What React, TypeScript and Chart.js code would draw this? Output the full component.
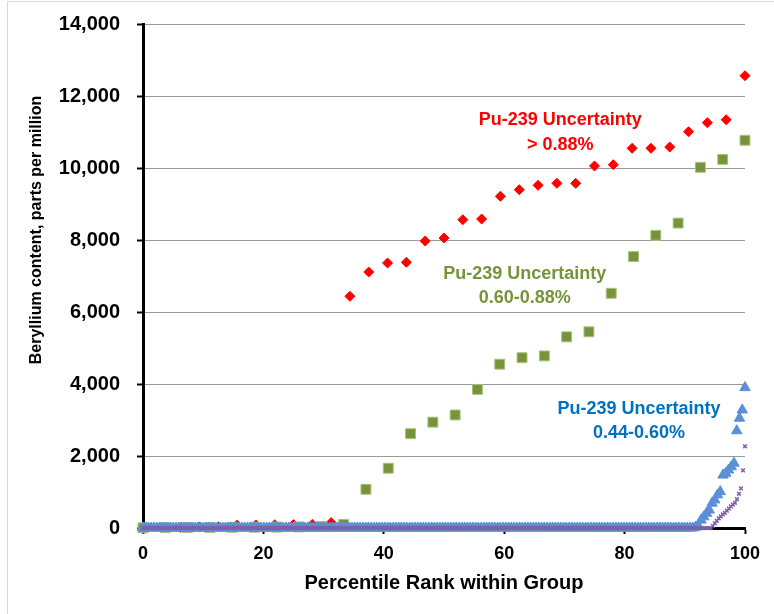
import React, { useEffect, useRef } from "react";
import { Chart, registerables } from "chart.js";

Chart.register(...registerables);

// ---- Data (percentile rank is derived from each value's rank in its group) ----
const xTickValues = [0, 20, 40, 60, 80, 100];
const yTickValues = [0, 2000, 4000, 6000, 8000, 10000, 12000, 14000];

// Pu-239 Uncertainty > 0.88%  (33 samples)
const redValues = [
  5, 10, 15, 25, 35, 80, 85, 90, 95, 100, 150,
  6436, 7111, 7361, 7381, 7972, 8056, 8564, 8583, 9214, 9397, 9519,
  9575, 9575, 10056, 10092, 10547, 10547, 10583, 11008, 11258, 11342, 12564,
];

// Pu-239 Uncertainty 0.60-0.88%  (28 samples)
const greenValues = [
  5, 10, 10, 15, 20, 20, 25, 30, 40, 100,
  1075, 1660, 2620, 2940, 3140, 3850, 4550, 4730, 4780, 5310,
  5450, 6520, 7540, 8130, 8470, 10020, 10240, 10770,
];

// Pu-239 Uncertainty 0.44-0.60%  (220 samples)
const blueValues = [
  0, 0, 0, 0, 0, 0, 0, 0, 0, 0, 0, 0, 0, 0, 0, 0, 0, 0, 0, 0,
  0, 0, 0, 0, 0, 0, 0, 0, 0, 0, 0, 0, 0, 0, 0, 0, 0, 0, 0, 0,
  0, 0, 0, 0, 0, 0, 0, 0, 0, 0, 0, 0, 0, 0, 0, 0, 0, 0, 0, 0,
  0, 0, 0, 0, 0, 0, 0, 0, 0, 0, 0, 0, 0, 0, 0, 0, 0, 0, 0, 0,
  0, 0, 0, 0, 0, 0, 0, 0, 0, 0, 0, 0, 0, 0, 0, 0, 0, 0, 0, 0,
  0, 0, 0, 0, 0, 0, 0, 0, 0, 0, 0, 0, 0, 0, 0, 0, 0, 0, 0, 0,
  0, 0, 0, 0, 0, 0, 0, 0, 0, 0, 0, 0, 0, 0, 0, 0, 0, 0, 0, 0,
  0, 0, 0, 0, 0, 0, 0, 0, 0, 0, 0, 0, 0, 0, 0, 0, 0, 0, 0, 0,
  0, 0, 0, 0, 0, 0, 0, 0, 0, 0, 0, 0, 0, 0, 0, 0, 0, 0, 0, 0,
  0, 0, 0, 0, 0, 0, 0, 0, 0, 0, 0, 0, 0, 0, 0, 0, 0, 0, 0, 0,
  0, 20, 60,
  220, 310, 410, 500, 690, 780, 920, 1010, 1470, 1520, 1610, 1700, 1800,
  2700, 3050, 3280, 3900,
];

// Lowest uncertainty group (300 samples)
const purpleValues = [
  0, 0, 0, 0, 0, 0, 0, 0, 0, 0, 0, 0, 0, 0, 0, 0, 0, 0, 0, 0,
  0, 0, 0, 0, 0, 0, 0, 0, 0, 0, 0, 0, 0, 0, 0, 0, 0, 0, 0, 0,
  0, 0, 0, 0, 0, 0, 0, 0, 0, 0, 0, 0, 0, 0, 0, 0, 0, 0, 0, 0,
  0, 0, 0, 0, 0, 0, 0, 0, 0, 0, 0, 0, 0, 0, 0, 0, 0, 0, 0, 0,
  0, 0, 0, 0, 0, 0, 0, 0, 0, 0, 0, 0, 0, 0, 0, 0, 0, 0, 0, 0,
  0, 0, 0, 0, 0, 0, 0, 0, 0, 0, 0, 0, 0, 0, 0, 0, 0, 0, 0, 0,
  0, 0, 0, 0, 0, 0, 0, 0, 0, 0, 0, 0, 0, 0, 0, 0, 0, 0, 0, 0,
  0, 0, 0, 0, 0, 0, 0, 0, 0, 0, 0, 0, 0, 0, 0, 0, 0, 0, 0, 0,
  0, 0, 0, 0, 0, 0, 0, 0, 0, 0, 0, 0, 0, 0, 0, 0, 0, 0, 0, 0,
  0, 0, 0, 0, 0, 0, 0, 0, 0, 0, 0, 0, 0, 0, 0, 0, 0, 0, 0, 0,
  0, 0, 0, 0, 0, 0, 0, 0, 0, 0, 0, 0, 0, 0, 0, 0, 0, 0, 0, 0,
  0, 0, 0, 0, 0, 0, 0, 0, 0, 0, 0, 0, 0, 0, 0, 0, 0, 0, 0, 0,
  0, 0, 0, 0, 0, 0, 0, 0, 0, 0, 0, 0, 0, 0, 0, 0, 0, 0, 0, 0,
  0, 0, 0, 0, 0, 0, 0, 0, 0, 0, 0, 0, 0, 0, 0, 0, 0, 0, 0, 0,
  0, 0, 0,
  60, 130, 200, 270, 320, 380, 420, 480, 540, 600, 650, 700, 800, 950,
  1100, 1600, 2270,
];

const annotations = [
  { lines: ["Pu-239 Uncertainty", "> 0.88%"], x: 69.3, y: 11330, color: "#FF0000" },
  { lines: ["Pu-239 Uncertainty", "0.60-0.88%"], x: 63.4, y: 7056, color: "#77933C" },
  { lines: ["Pu-239 Uncertainty", "0.44-0.60%"], x: 82.4, y: 3306, color: "#0070C0" },
];

const xTitle = "Percentile Rank within Group";
const yTitle = "Beryllium content, parts per million";

const FONT = '"Liberation Sans", Arial, sans-serif';

const toPoints = (vals: number[]) =>
  vals.map((v, i) => ({ x: (i * 100) / (vals.length - 1), y: v }));

const decorPlugin = {
  id: "decor",
  beforeDraw(chart: any) {
    const { ctx, width, height } = chart;
    ctx.save();
    ctx.fillStyle = "#FFFFFF";
    ctx.fillRect(0, 0, width, height);
    ctx.strokeStyle = "#D9D9D9";
    ctx.lineWidth = 1;
    ctx.strokeRect(7.5, 1.5, width + 20, height + 20);
    ctx.restore();
  },
  afterDraw(chart: any) {
    const { ctx, scales } = chart;
    const xs = scales.x;
    const ys = scales.y;
    ctx.save();
    ctx.textAlign = "center";
    ctx.textBaseline = "middle";
    ctx.font = `bold 18px ${FONT}`;
    for (const a of annotations) {
      const px = xs.getPixelForValue(a.x);
      const py = ys.getPixelForValue(a.y);
      ctx.fillStyle = a.color;
      a.lines.forEach((t, k) => ctx.fillText(t, px, py + k * 24.5));
    }
    // axis titles
    ctx.fillStyle = "#000000";
    ctx.font = `bold 20px ${FONT}`;
    ctx.fillText(xTitle, (chart.chartArea.left + chart.chartArea.right) / 2, 583);
    ctx.translate(37, 230);
    ctx.rotate(-Math.PI / 2);
    ctx.font = `bold 16px ${FONT}`;
    ctx.fillText(yTitle, 0, 0);
    ctx.restore();
  },
};

export default function App() {
  const canvasRef = useRef<HTMLCanvasElement | null>(null);

  useEffect(() => {
    const canvas = canvasRef.current;
    if (!canvas) return;
    const chart = new Chart(canvas, {
      type: "scatter",
      data: {
        datasets: [
          {
            label: "Lowest",
            data: toPoints(purpleValues),
            pointStyle: "crossRot",
            pointRadius: 2.6,
            borderColor: "#7F5FA6",
            backgroundColor: "#7F5FA6",
            borderWidth: 1.5,
            clip: false,
            order: 0,
          },
          {
            label: "0.44-0.60%",
            data: toPoints(blueValues),
            pointStyle: "triangle",
            pointRadius: 6,
            borderColor: "#5B8FD6",
            backgroundColor: "#5B8FD6",
            borderWidth: 1,
            clip: false,
            order: 1,
          },
          {
            label: "0.60-0.88%",
            data: toPoints(greenValues),
            pointStyle: "rect",
            pointRadius: 7,
            borderColor: "#A9C27A",
            backgroundColor: "#77933C",
            borderWidth: 1,
            clip: false,
            order: 2,
          },
          {
            label: "> 0.88%",
            data: toPoints(redValues),
            pointStyle: "rectRot",
            pointRadius: 5,
            borderColor: "#FF0000",
            backgroundColor: "#FF0000",
            borderWidth: 1,
            clip: false,
            order: 3,
          },
        ],
      },
      options: {
        animation: false,
        responsive: false,
        devicePixelRatio: 1,
        layout: { padding: { top: 24, right: 29, left: 0, bottom: 0 } },
        plugins: {
          legend: { display: false },
          tooltip: { enabled: false },
        },
        scales: {
          x: {
            type: "linear",
            min: 0,
            max: 100,
            afterFit: (s: any) => {
              s.height = 86;
              s.paddingLeft = 0;
              s.paddingRight = 0;
            },
            afterBuildTicks: (s: any) => {
              s.ticks = xTickValues.map((v) => ({ value: v }));
            },
            border: { display: true, color: "#000000", width: 3 },
            grid: {
              drawOnChartArea: false,
              drawTicks: true,
              tickLength: 6,
              tickColor: "#000000",
              tickWidth: 2,
            },
            ticks: {
              color: "#000000",
              padding: 9,
              font: { family: FONT, size: 18, weight: "bold" },
            },
          },
          y: {
            type: "linear",
            min: 0,
            max: 14000,
            afterFit: (s: any) => {
              s.width = 143;
              s.paddingTop = 0;
              s.paddingBottom = 0;
            },
            afterBuildTicks: (s: any) => {
              s.ticks = yTickValues.map((v) => ({ value: v }));
            },
            border: { display: true, color: "#000000", width: 3 },
            grid: {
              color: "#9A9A9A",
              lineWidth: 1,
              drawTicks: true,
              tickLength: 6,
              tickColor: "#000000",
              tickWidth: 2,
            },
            ticks: {
              color: "#000000",
              padding: 17,
              font: { family: FONT, size: 20, weight: "bold" },
              callback: (v: any) => Number(v).toLocaleString("en-US"),
            },
          },
        },
      },
      plugins: [decorPlugin],
    });
    return () => chart.destroy();
  }, []);

  return (
    <div style={{ position: "absolute", left: 0, top: 0, width: 774, height: 614 }}>
      <canvas ref={canvasRef} width={774} height={614} style={{ display: "block" }} />
    </div>
  );
}
